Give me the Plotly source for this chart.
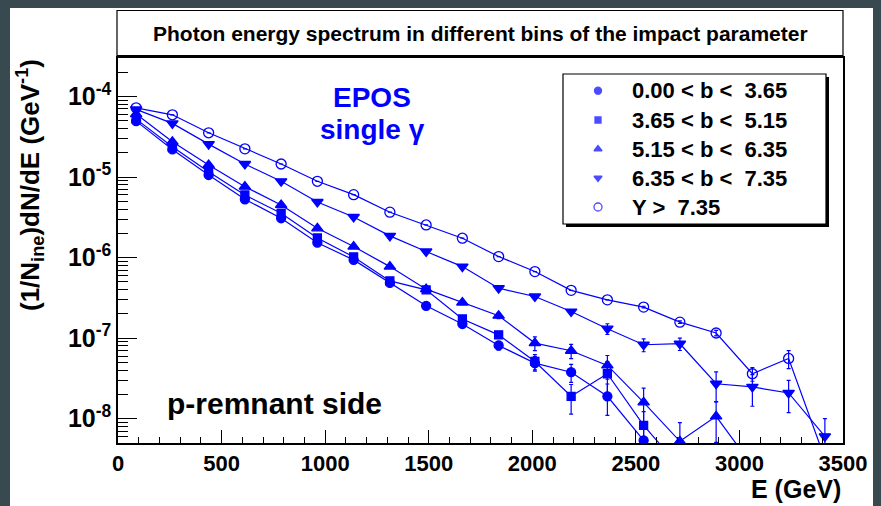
import math
import plotly.graph_objects as go

# ---------------- data ----------------
E = [87.5, 262.5, 437.5, 612.5, 787.5, 962.5, 1137.5, 1312.5, 1487.5, 1662.5,
     1837.5, 2012.5, 2187.5, 2362.5, 2537.5, 2712.5, 2887.5, 3062.5, 3237.5, 3412.5]

labels = ["0.00 < b <\u00a0 3.65", "3.65 < b <\u00a0 5.15", "5.15 < b <\u00a0 6.35",
          "6.35 < b <\u00a0 7.35", "Y >\u00a0 7.35"]

b1 = [4.94e-5, 2.20e-5, 1.06e-5, 5.30e-6, 3.08e-6, 1.53e-6, 9.37e-7, 4.85e-7, 2.52e-7, 1.50e-7,
      8.12e-8, 4.91e-8, 3.78e-8, 1.90e-8, 5.40e-9, None, None, None, None, None]
e1 = [None, None, None, None, None, None, None, None, None, 1.2e-8,
      1.0e-8, 1.0e-8, 9.5e-9, 8.0e-9, 2.7e-9, None, None, None, None, None]

b2 = [5.23e-5, 2.37e-5, 1.16e-5, 5.98e-6, 3.55e-6, 1.75e-6, 1.02e-6, 5.14e-7, 3.98e-7, 1.73e-7,
      1.10e-7, 5.14e-8, 1.90e-8, 3.62e-8, 8.28e-9, 2.5e-9, None, None, None, None]
e2 = [None, None, None, None, None, None, None, None, None, 1.4e-8,
      1.1e-8, 1.1e-8, 7.6e-9, 1.5e-8, 4.0e-9, None, None, None, None, None]

b3 = [6.04e-5, 2.74e-5, 1.41e-5, 7.59e-6, 4.50e-6, 2.31e-6, 1.37e-6, 7.73e-7, 4.06e-7, 2.77e-7,
      1.90e-7, 8.69e-8, 6.98e-8, 4.59e-8, 1.60e-8, 5.25e-9, 1.07e-8, 2.6e-9, None, None]
e3 = [None, None, None, None, None, None, None, None, None, None,
      1.5e-8, 1.7e-8, 1.4e-8, 1.5e-8, 8.0e-9, 3.7e-9, 5.6e-9, None, None, None]

b4 = [6.90e-5, 4.63e-5, 2.56e-5, 1.45e-5, 8.85e-6, 4.90e-6, 3.19e-6, 1.86e-6, 1.19e-6, 7.73e-7,
      4.17e-7, 3.29e-7, 2.14e-7, 1.31e-7, 8.28e-8, 8.53e-8, 2.72e-8, 2.48e-8, 2.09e-8, 6.05e-9]
e4 = [None, None, None, None, None, None, None, None, None, None,
      None, 1.2e-8, 1.3e-8, 2.0e-8, 1.5e-8, 1.5e-8, 1.1e-8, 1.05e-8, 9.0e-9, 4.0e-9]

b5 = [7.22e-5, 5.92e-5, 3.54e-5, 2.24e-5, 1.45e-5, 8.85e-6, 6.04e-6, 3.66e-6, 2.54e-6, 1.74e-6,
      1.03e-6, 6.71e-7, 3.92e-7, 2.99e-7, 2.43e-7, 1.58e-7, 1.16e-7, 3.62e-8, 5.60e-8, 3.2e-9]
e5 = [None, None, None, None, None, None, None, None, None, None,
      None, None, None, None, 6.0e-9, 6.0e-9, 9.0e-9, 7.0e-9, 1.4e-8, None]

series = [b1, b2, b3, b4, b5]
errors = [e1, e2, e3, e4, e5]

x_ticks = [0, 500, 1000, 1500, 2000, 2500, 3000, 3500]
y_ticks = [1e-8, 1e-7, 1e-6, 1e-5, 1e-4]
y_ticktext = ["10<sup>-8</sup>", "10<sup>-7</sup>", "10<sup>-6</sup>", "10<sup>-5</sup>", "10<sup>-4</sup>"]

# ---------------- style ----------------
BLUE = "#0000ff"
FONT = "Liberation Sans, Arial, Helvetica, sans-serif"
symbols = ["circle", "square", "triangle-up", "triangle-down", "circle-open"]
msizes = [9, 8, 10, 10, 10]
leg_sizes = [7, 6, 7, 7, 8]

W, H = 881, 506
ML, MR, MT, MB = 118, 38, 58, 63
PW, PH = W - ML - MR, H - MT - MB


def px(x):
    return (x - ML) / PW


def py(y):
    return (H - MB - y) / PH


fig = go.Figure()

for vals, errs, sym, ms in zip(series, errors, symbols, msizes):
    fig.add_trace(go.Scatter(
        x=E, y=vals, mode="lines+markers", showlegend=False,
        line=dict(color=BLUE, width=1.2),
        marker=dict(symbol=sym, size=ms, color=BLUE, line=dict(color=BLUE, width=1.3)),
        error_y=dict(type="data", array=errs, visible=True, color=BLUE, thickness=1.2, width=2),
    ))

# legend markers on an overlay axis spanning the plot area (0..1)
leg_rows = [90.7, 120, 149, 178, 207]
fig.add_trace(go.Scatter(
    x=[px(598)] * 5, y=[py(r) for r in leg_rows], mode="markers", showlegend=False,
    xaxis="x2", yaxis="y2", hoverinfo="skip",
    marker=dict(symbol=symbols, size=leg_sizes, color=BLUE, line=dict(color=BLUE, width=1.3)),
))

# minor ticks for the log axis
minor_vals = []
for k in range(-9, -3):
    for d in range(2, 10):
        v = d * 10 ** k
        if 5e-9 <= v <= 3e-4:
            minor_vals.append(v)

shapes = [
    # white canvas
    dict(type="rect", xref="paper", yref="paper", x0=px(10), x1=px(873), y0=py(8), y1=py(506),
         fillcolor="white", line=dict(width=0), layer="below"),
    # title box
    dict(type="rect", xref="paper", yref="paper", x0=px(117), x1=px(843), y0=py(10.5), y1=py(55.5),
         fillcolor="white", line=dict(color="black", width=1.2), layer="below"),
    # legend shadow
    dict(type="rect", xref="paper", yref="paper", x0=px(566), x1=px(829), y0=py(77), y1=py(227),
         fillcolor="black", line=dict(width=0), layer="below"),
    # legend box
    dict(type="rect", xref="paper", yref="paper", x0=px(563), x1=px(826), y0=py(74), y1=py(224),
         fillcolor="white", line=dict(color="black", width=1.2), layer="below"),
]

annotations = [
    dict(text="<b>Photon energy spectrum in different bins of the impact parameter</b>",
         x=px(480), y=py(33), xanchor="center", yanchor="middle",
         font=dict(family=FONT, size=21, color="black")),
    dict(text="<b>EPOS</b>", x=px(372), y=py(97), xanchor="center", yanchor="middle",
         font=dict(family=FONT, size=28, color=BLUE)),
    dict(text="<b>single \u03b3</b>", x=px(372), y=py(129), xanchor="center", yanchor="middle",
         font=dict(family=FONT, size=28, color=BLUE)),
    dict(text="<b>p-remnant side</b>", x=px(165), y=py(403), xanchor="left", yanchor="middle",
         font=dict(family=FONT, size=30, color="black")),
    dict(text="<b>E (GeV)</b>", x=px(843), y=py(489), xanchor="right", yanchor="middle",
         font=dict(family=FONT, size=25, color="black")),
    dict(text="<b>(1/N<sub>ine</sub>)dN/dE (GeV<sup>-1</sup>)</b>", x=px(30), y=py(185),
         xanchor="center", yanchor="middle", textangle=-90,
         font=dict(family=FONT, size=26, color="black")),
]
for lab, r in zip(labels, leg_rows):
    annotations.append(dict(text="<b>" + lab + "</b>", x=px(630), y=py(r), xanchor="left",
                            yanchor="middle", font=dict(family=FONT, size=22, color="black")))

for a in annotations:
    a.update(xref="paper", yref="paper", showarrow=False)

fig.update_layout(
    width=W, height=H,
    margin=dict(l=ML, r=MR, t=MT, b=MB, pad=0),
    paper_bgcolor="#394950", plot_bgcolor="white",
    showlegend=False,
    shapes=shapes, annotations=annotations,
    xaxis=dict(range=[0, 3500], tickvals=x_ticks, ticks="inside", ticklen=13, tickwidth=1.2,
               tickcolor="black", showline=True, linecolor="black", linewidth=1.5, mirror=True,
               showgrid=False, zeroline=False,
               minor=dict(ticks="inside", dtick=100, ticklen=6, tickwidth=1.2, tickcolor="black",
                          showgrid=False),
               tickfont=dict(family=FONT, size=22, color="black", weight="bold")),
    yaxis=dict(type="log", range=[math.log10(5e-9), math.log10(3e-4)],
               tickvals=y_ticks, ticktext=y_ticktext, ticks="inside", ticklen=19, tickwidth=1.2,
               tickcolor="black", showline=True, linecolor="black", linewidth=1.5, mirror=True,
               showgrid=False, zeroline=False,
               minor=dict(ticks="inside", tickvals=minor_vals, ticklen=10, tickwidth=1.2,
                          tickcolor="black", showgrid=False),
               tickfont=dict(family=FONT, size=25, color="black", weight="bold")),
    xaxis2=dict(overlaying="x", range=[0, 1], visible=False),
    yaxis2=dict(overlaying="y", range=[0, 1], visible=False),
)

fig.write_html("out.html")
